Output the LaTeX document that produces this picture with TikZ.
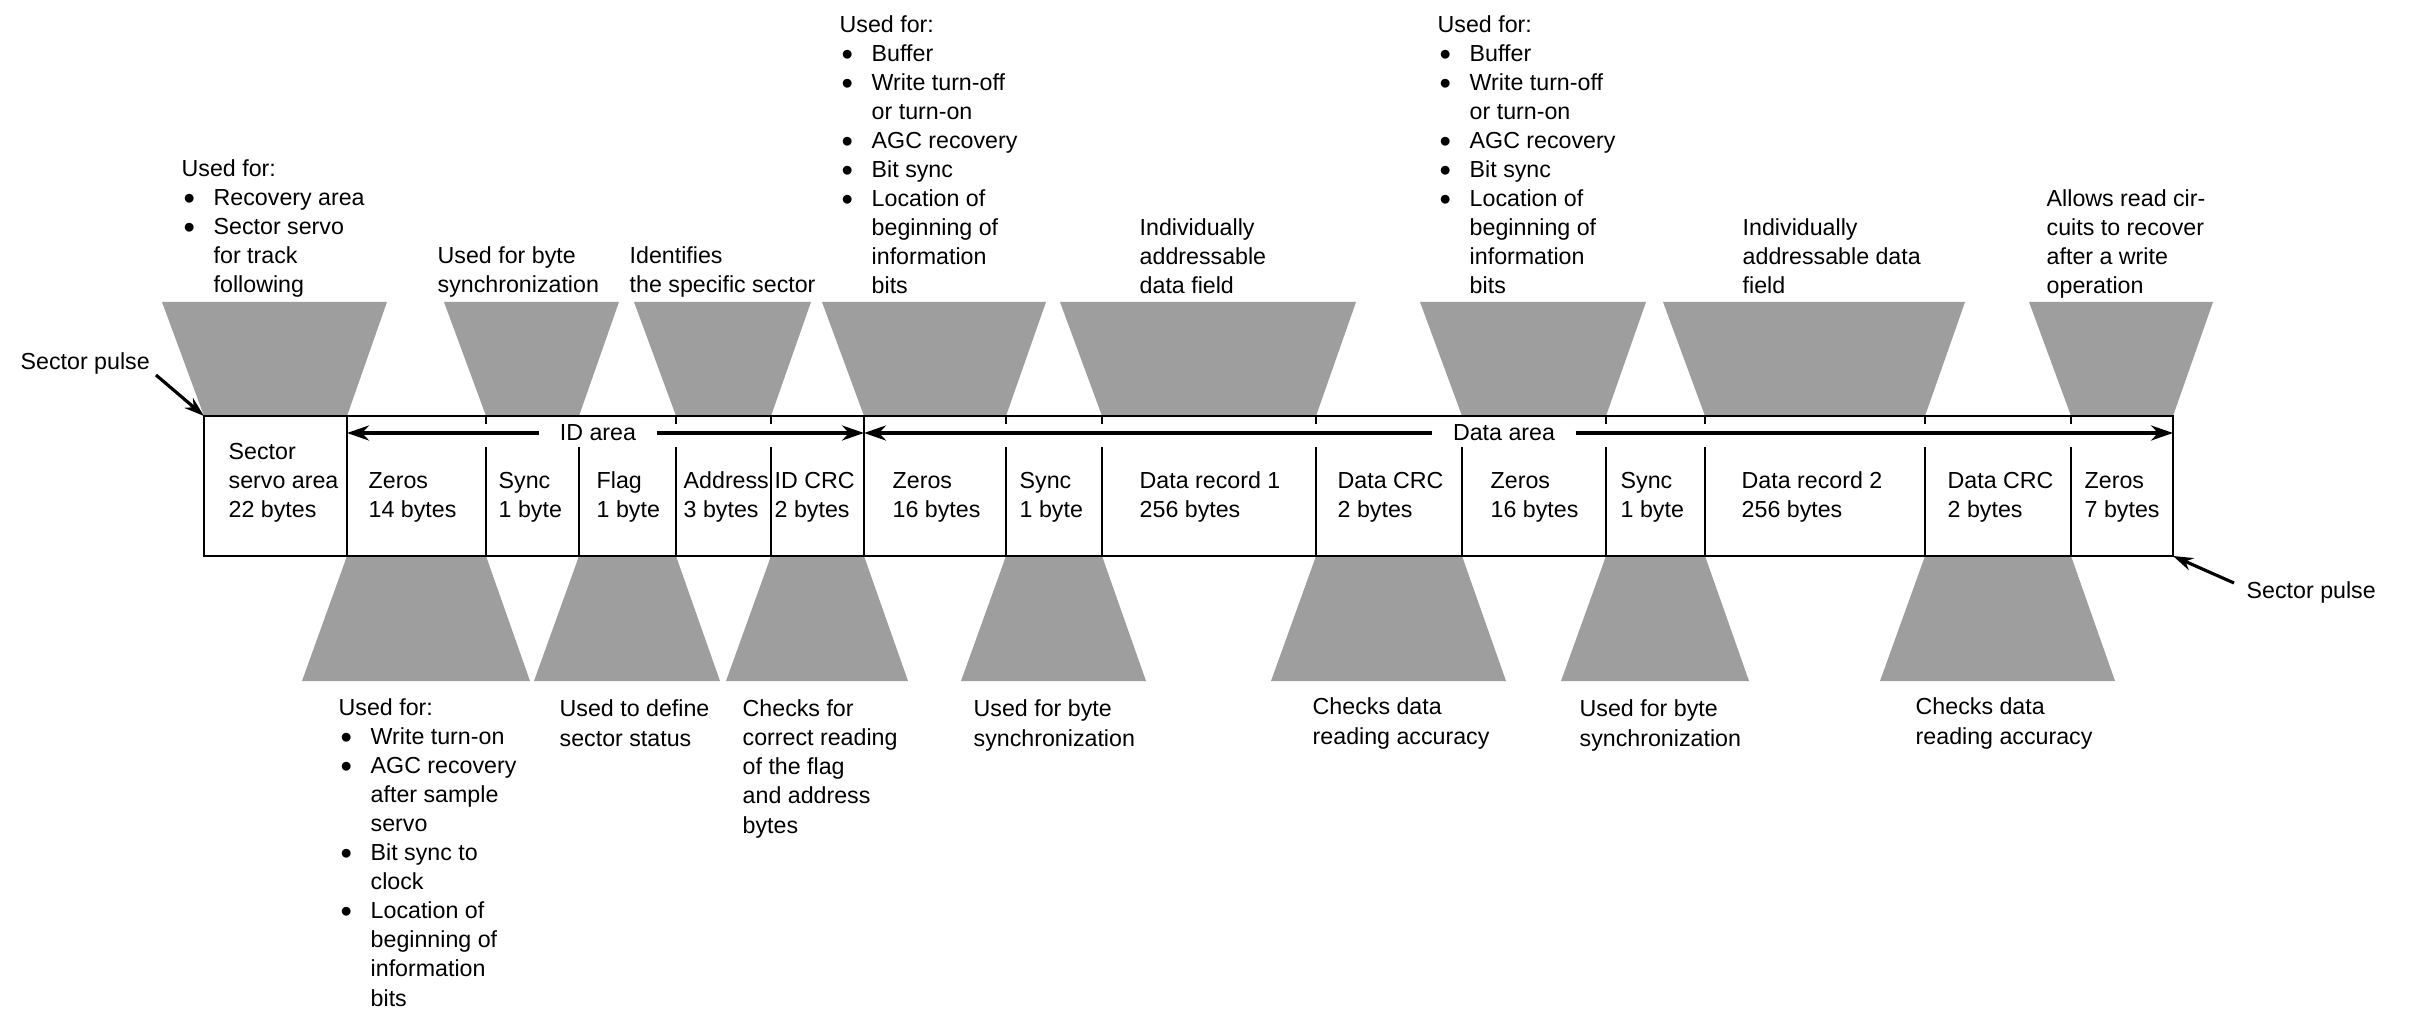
\documentclass[tikz,border=0pt]{standalone}
\usepackage{fontspec}
\setmainfont{Liberation Sans}
\usetikzlibrary{arrows.meta}
\newcommand{\bitem}{\makebox[0.32cm][l]{\hspace{0.02cm}\raisebox{-1.1pt}{\scalebox{1.4}{\textbullet}}}}
\newcommand{\bcont}{\hspace*{0.32cm}}

\begin{document}
\begin{tikzpicture}[x=0.01cm, y=-0.01cm, % pixel units, y runs downward
    txt/.style={inner sep=0pt, anchor=base west, align=left, font=\fontsize{6.6}{8.25}\selectfont}, % base = last line
    halftone/.style={fill=black!38},
    frame/.style={line width=0.8pt},
    divider/.style={line width=0.6pt},
    arealine/.style={line width=1.1pt, -{Stealth[length=0.22cm, width=0.15cm]}},
    pulsearrow/.style={line width=0.9pt, -{Stealth[length=0.2cm, width=0.13cm]}},
    arealabel/.style={inner xsep=0.2cm, inner ysep=0pt, font=\fontsize{6.6}{8.25}\selectfont}]

    \useasboundingbox (0,0) rectangle (2410,1010);

    % Shaded wedges above the track
    \foreach \l/\r in {204/347, 486/579, 676/771, 864/1006, 1102/1316, 1462/1606, 1705/1925, 2071/2173}
      \fill[halftone] (\l,416) -- (\r,416) -- (\r+40,302) -- (\l-42,302) -- cycle;

    % Shaded wedges below the track
    \foreach \l/\r in {347/486, 579/676, 771/864, 1006/1102, 1316/1462, 1606/1705, 1925/2071}
      \fill[halftone] (\l,556) -- (\r,556) -- (\r+44,681) -- (\l-45,681) -- cycle;

    % Track
    \coordinate (nw) at (204,416);
    \coordinate (se) at (2173,556);
    \draw[frame] (nw) rectangle (se);

    % Field borders
    \foreach \x in {347, 864}
      \draw[divider] (\x,416) -- (\x,556);
    \foreach \x in {486, 676, 771, 1006, 1102, 1316, 1606, 1705, 1925, 2071}
      \draw[divider] (\x,416) -- (\x,424) (\x,447) -- (\x,556);
    \foreach \x in {579, 1462}
      \draw[divider] (\x,447) -- (\x,556);

    % Area arrows
    \coordinate (idL) at (347,433);
    \coordinate (idR) at (864,433);
    \coordinate (dataR) at (2173,433);
    \node[arealabel] (idarea) at (598,433) {ID area};
    \node[arealabel] (dataarea) at (1504,433) {Data area};
    \draw[arealine] (idarea.west) -- (idL);
    \draw[arealine] (idarea.east) -- (idR);
    \draw[arealine] (dataarea.west) -- (idR);
    \draw[arealine] (dataarea.east) -- (dataR);

    % Field contents
    \node[txt] (servo) at (228,518) {Sector\\servo area\\22 bytes};
    \foreach \x/\fname/\fsize [count=\i] in {368/Zeros/14 bytes, 498/Sync/1 byte, 596/Flag/1 byte,
        683/Address/3 bytes, 774/ID CRC/2 bytes, 892/Zeros/16 bytes, 1019/Sync/1 byte,
        1139/Data record 1/256 bytes, 1337/Data CRC/2 bytes, 1490/Zeros/16 bytes,
        1620/Sync/1 byte, 1741/Data record 2/256 bytes, 1947/Data CRC/2 bytes, 2084/Zeros/7 bytes}
      \node[txt] (field\i) at (\x,518) {\fname\\\fsize};

    % Notes above
    \node[txt] (servonote) at (181,293) {Used for:\\\bitem Recovery area\\\bitem Sector servo\\\bcont for track\\\bcont following};
    \node[txt] (syncnote) at (437,293) {Used for byte\\synchronization};
    \node[txt] (idnote) at (629,293) {Identifies\\the specific sector};
    \node[txt] (bufnoteA) at (839,294) {Used for:\\\bitem Buffer\\\bitem Write turn-off\\\bcont or turn-on\\\bitem AGC recovery\\\bitem Bit sync\\\bitem Location of\\\bcont beginning of\\\bcont information\\\bcont bits};
    \node[txt] (recnoteA) at (1139,294) {Individually\\addressable\\data field};
    \node[txt] (bufnoteB) at (1437,294) {Used for:\\\bitem Buffer\\\bitem Write turn-off\\\bcont or turn-on\\\bitem AGC recovery\\\bitem Bit sync\\\bitem Location of\\\bcont beginning of\\\bcont information\\\bcont bits};
    \node[txt] (recnoteB) at (1742,294) {Individually\\addressable data\\field};
    \node[txt] (readnote) at (2046,294) {Allows read cir-\\cuits to recover\\after a write\\operation};

    % Notes below
    \node[txt] (wonnote) at (338,1006) {Used for:\\\bitem Write turn-on\\\bitem AGC recovery\\\bcont after sample\\\bcont servo\\\bitem Bit sync to\\\bcont clock\\\bitem Location of\\\bcont beginning of\\\bcont information\\\bcont bits};
    \node[txt] (flagnote) at (559,746) {Used to define\\sector status};
    \node[txt] (crcnote) at (742,833) {Checks for\\correct reading\\of the flag\\and address\\bytes};
    \node[txt] (syncnoteA) at (973,746) {Used for byte\\synchronization};
    \node[txt] (crcnoteA) at (1312,744) {Checks data\\reading accuracy};
    \node[txt] (syncnoteB) at (1579,746) {Used for byte\\synchronization};
    \node[txt] (crcnoteB) at (1915,744) {Checks data\\reading accuracy};

    % Sector pulses
    \node[txt] (pulseL) at (20,370) {Sector pulse};
    \node[txt] (pulseR) at (2246,598) {Sector pulse};
    \coordinate (pulseLtail) at (156,375);
    \coordinate (pulseRtail) at (2234,583);
    \draw[pulsearrow] (pulseLtail) -- (nw);
    \draw[pulsearrow] (pulseRtail) -- (se);

\end{tikzpicture}
\end{document}
